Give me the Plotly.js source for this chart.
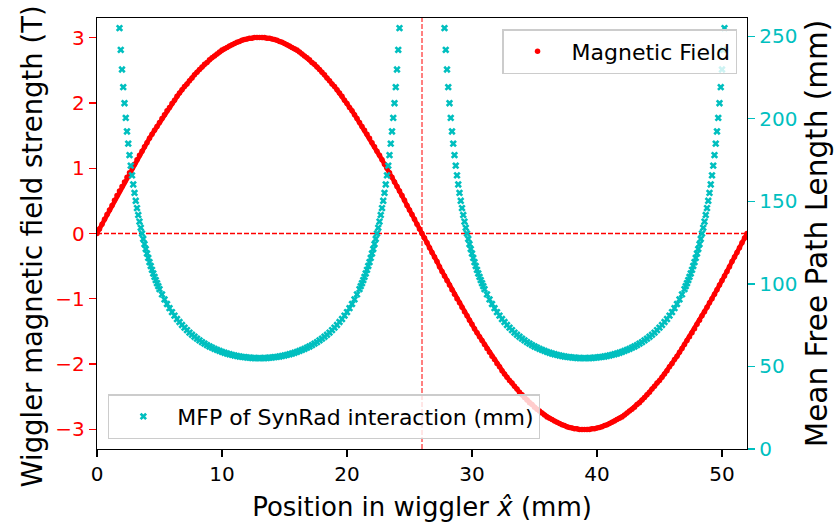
<!DOCTYPE html>
<html>
<head>
<meta charset="utf-8">
<script src="https://cdn.plot.ly/plotly-3.0.1.min.js"></script>
<style>html,body{margin:0;padding:0;background:#fff;}#chart{width:839px;height:526px;}</style>
</head>
<body>
<div id="chart"></div>
<script>
// Position along the wiggler (mm) for the magnetic field samples
const xField = [0,0.2,0.4,0.6,0.8,1,1.2,1.4,1.6,1.8,2,2.2,2.4,2.6,2.8,3,3.2,3.4,3.6,3.8,4,4.2,4.4,4.6,4.8,5,5.2,5.4,5.6,5.8,6,6.2,6.4,6.6,6.8,7,7.2,7.4,7.6,7.8,8,8.2,8.4,8.6,8.8,9,9.2,9.4,9.6,9.8,10,10.2,10.4,10.6,10.8,11,11.2,11.4,11.6,11.8,12,12.2,12.4,12.6,12.8,13,13.2,13.4,13.6,13.8,14,14.2,14.4,14.6,14.8,15,15.2,15.4,15.6,15.8,16,16.2,16.4,16.6,16.8,17,17.2,17.4,17.6,17.8,18,18.2,18.4,18.6,18.8,19,19.2,19.4,19.6,19.8,20,20.2,20.4,20.6,20.8,21,21.2,21.4,21.6,21.8,22,22.2,22.4,22.6,22.8,23,23.2,23.4,23.6,23.8,24,24.2,24.4,24.6,24.8,25,25.2,25.4,25.6,25.8,26,26.2,26.4,26.6,26.8,27,27.2,27.4,27.6,27.8,28,28.2,28.4,28.6,28.8,29,29.2,29.4,29.6,29.8,30,30.2,30.4,30.6,30.8,31,31.2,31.4,31.6,31.8,32,32.2,32.4,32.6,32.8,33,33.2,33.4,33.6,33.8,34,34.2,34.4,34.6,34.8,35,35.2,35.4,35.6,35.8,36,36.2,36.4,36.6,36.8,37,37.2,37.4,37.6,37.8,38,38.2,38.4,38.6,38.8,39,39.2,39.4,39.6,39.8,40,40.2,40.4,40.6,40.8,41,41.2,41.4,41.6,41.8,42,42.2,42.4,42.6,42.8,43,43.2,43.4,43.6,43.8,44,44.2,44.4,44.6,44.8,45,45.2,45.4,45.6,45.8,46,46.2,46.4,46.6,46.8,47,47.2,47.4,47.6,47.8,48,48.2,48.4,48.6,48.8,49,49.2,49.4,49.6,49.8,50,50.2,50.4,50.6,50.8,51,51.2,51.4,51.6,51.8,52];

// Wiggler magnetic field strength (T)
const bField = [0,0.07,0.14,0.22,0.29,0.36,0.43,0.51,0.58,0.65,0.72,0.79,0.86,0.93,1.00,1.06,1.13,1.20,1.26,1.33,1.39,1.46,1.52,1.58,1.64,1.70,1.76,1.82,1.88,1.93,1.99,2.04,2.10,2.15,2.20,2.25,2.29,2.34,2.38,2.43,2.47,2.51,2.55,2.59,2.62,2.66,2.69,2.72,2.75,2.78,2.81,2.83,2.85,2.87,2.89,2.91,2.93,2.94,2.96,2.97,2.98,2.99,2.99,3.00,3.00,3.00,
3.00,3.00,2.99,2.99,2.98,2.97,2.96,2.94,2.93,2.91,2.89,2.87,2.85,2.83,2.81,2.78,2.75,2.72,2.69,2.66,2.62,2.59,2.55,2.51,2.47,2.43,2.38,2.34,2.29,2.25,2.20,2.15,2.10,2.04,1.99,1.93,1.88,1.82,1.76,1.70,1.64,1.58,1.52,1.46,1.39,1.33,1.26,1.20,1.13,1.06,1.00,0.93,0.86,0.79,0.72,0.65,0.58,0.51,0.43,0.36,0.29,0.22,0.14,0.07,0,
-0.07,-0.14,-0.22,-0.29,-0.36,-0.43,-0.51,-0.58,-0.65,-0.72,-0.79,-0.86,-0.93,-1.00,-1.06,-1.13,-1.20,-1.26,-1.33,-1.39,-1.46,-1.52,-1.58,-1.64,-1.70,-1.76,-1.82,-1.88,-1.93,-1.99,-2.04,-2.10,-2.15,-2.20,-2.25,-2.29,-2.34,-2.38,-2.43,-2.47,-2.51,-2.55,-2.59,-2.62,-2.66,-2.69,-2.72,-2.75,-2.78,-2.81,-2.83,-2.85,-2.87,-2.89,-2.91,-2.93,-2.94,-2.96,-2.97,-2.98,-2.99,-2.99,-3.00,-3.00,-3.00,
-3.00,-3.00,-2.99,-2.99,-2.98,-2.97,-2.96,-2.94,-2.93,-2.91,-2.89,-2.87,-2.85,-2.83,-2.81,-2.78,-2.75,-2.72,-2.69,-2.66,-2.62,-2.59,-2.55,-2.51,-2.47,-2.43,-2.38,-2.34,-2.29,-2.25,-2.20,-2.15,-2.10,-2.04,-1.99,-1.93,-1.88,-1.82,-1.76,-1.70,-1.64,-1.58,-1.52,-1.46,-1.39,-1.33,-1.26,-1.20,-1.13,-1.06,-1.00,-0.93,-0.86,-0.79,-0.72,-0.65,-0.58,-0.51,-0.43,-0.36,-0.29,-0.22,-0.14,-0.07,0];

// Positions (mm) of the visible mean-free-path samples
const xMfp = [1.8,1.9,2,2.1,2.2,2.3,2.4,2.5,2.6,2.7,2.8,2.9,3,3.1,3.2,3.3,3.4,3.5,3.6,3.7,3.8,3.9,4,4.1,4.2,4.3,4.4,4.5,4.6,4.7,4.8,4.9,5,
5.2,5.4,5.6,5.8,6,6.2,6.4,6.6,6.8,7,7.2,7.4,7.6,7.8,8,8.2,8.4,8.6,8.8,9,9.2,9.4,9.6,9.8,10,10.2,10.4,10.6,10.8,11,11.2,11.4,11.6,11.8,12,12.2,12.4,12.6,12.8,13,
13.2,13.4,13.6,13.8,14,14.2,14.4,14.6,14.8,15,15.2,15.4,15.6,15.8,16,16.2,16.4,16.6,16.8,17,17.2,17.4,17.6,17.8,18,18.2,18.4,18.6,18.8,19,19.2,19.4,19.6,19.8,20,20.2,20.4,20.6,20.8,
21,21.1,21.2,21.3,21.4,21.5,21.6,21.7,21.8,21.9,22,22.1,22.2,22.3,22.4,22.5,22.6,22.7,22.8,22.9,23,23.1,23.2,23.3,23.4,23.5,23.6,23.7,23.8,23.9,24,24.1,24.2,
27.8,27.9,28,28.1,28.2,28.3,28.4,28.5,28.6,28.7,28.8,28.9,29,29.1,29.2,29.3,29.4,29.5,29.6,29.7,29.8,29.9,30,30.1,30.2,30.3,30.4,30.5,30.6,30.7,30.8,30.9,31,
31.2,31.4,31.6,31.8,32,32.2,32.4,32.6,32.8,33,33.2,33.4,33.6,33.8,34,34.2,34.4,34.6,34.8,35,35.2,35.4,35.6,35.8,36,36.2,36.4,36.6,36.8,37,37.2,37.4,37.6,37.8,38,38.2,38.4,38.6,38.8,39,
39.2,39.4,39.6,39.8,40,40.2,40.4,40.6,40.8,41,41.2,41.4,41.6,41.8,42,42.2,42.4,42.6,42.8,43,43.2,43.4,43.6,43.8,44,44.2,44.4,44.6,44.8,45,45.2,45.4,45.6,45.8,46,46.2,46.4,46.6,46.8,
47,47.1,47.2,47.3,47.4,47.5,47.6,47.7,47.8,47.9,48,48.1,48.2,48.3,48.4,48.5,48.6,48.7,48.8,48.9,49,49.1,49.2,49.3,49.4,49.5,49.6,49.7,49.8,49.9,50,50.1,50.2];

// Mean free path of the SynRad interaction (mm)
const mfp = [254.9,241.7,229.8,219.1,209.4,200.5,192.3,184.9,178.0,171.6,165.7,160.2,155.1,150.3,145.9,141.7,137.7,134.0,130.5,127.2,124.1,121.1,118.4,115.7,113.2,110.8,108.5,106.3,104.2,102.3,100.4,98.6,96.8,
93.6,90.6,87.8,85.3,82.9,80.8,78.7,76.9,75.1,73.5,72.0,70.5,69.2,68.0,66.8,65.8,64.7,63.8,62.9,62.1,61.4,60.6,60.0,59.4,58.8,58.3,57.8,57.4,57.0,56.6,56.3,56.0,55.8,55.6,55.4,55.3,55.1,55.1,55.0,55.0,
55.0,55.1,55.1,55.3,55.4,55.6,55.8,56.0,56.3,56.6,57.0,57.4,57.8,58.3,58.8,59.4,60.0,60.6,61.4,62.1,62.9,63.8,64.7,65.8,66.8,68.0,69.2,70.5,72.0,73.5,75.1,76.9,78.7,80.8,82.9,85.3,87.8,90.6,93.6,
96.8,98.6,100.4,102.3,104.2,106.3,108.5,110.8,113.2,115.7,118.4,121.1,124.1,127.2,130.5,134.0,137.7,141.7,145.9,150.3,155.1,160.2,165.7,171.6,178.0,184.9,192.3,200.5,209.4,219.1,229.8,241.7,254.9,
254.9,241.7,229.8,219.1,209.4,200.5,192.3,184.9,178.0,171.6,165.7,160.2,155.1,150.3,145.9,141.7,137.7,134.0,130.5,127.2,124.1,121.1,118.4,115.7,113.2,110.8,108.5,106.3,104.2,102.3,100.4,98.6,96.8,
93.6,90.6,87.8,85.3,82.9,80.8,78.7,76.9,75.1,73.5,72.0,70.5,69.2,68.0,66.8,65.8,64.7,63.8,62.9,62.1,61.4,60.6,60.0,59.4,58.8,58.3,57.8,57.4,57.0,56.6,56.3,56.0,55.8,55.6,55.4,55.3,55.1,55.1,55.0,55.0,
55.0,55.1,55.1,55.3,55.4,55.6,55.8,56.0,56.3,56.6,57.0,57.4,57.8,58.3,58.8,59.4,60.0,60.6,61.4,62.1,62.9,63.8,64.7,65.8,66.8,68.0,69.2,70.5,72.0,73.5,75.1,76.9,78.7,80.8,82.9,85.3,87.8,90.6,93.6,
96.8,98.6,100.4,102.3,104.2,106.3,108.5,110.8,113.2,115.7,118.4,121.1,124.1,127.2,130.5,134.0,137.7,141.7,145.9,150.3,155.1,160.2,165.7,171.6,178.0,184.9,192.3,200.5,209.4,219.1,229.8,241.7,254.9];

const xTicks = [0, 10, 20, 30, 40, 50];
const bTicks = [-3, -2, -1, 0, 1, 2, 3];
const mfpTicks = [0, 50, 100, 150, 200, 250];
const xRange = [0, 52];
const zeroField = 0;
const centerX = 26;

const RED = '#ff0000';
const CYAN = '#00bfbf';
const FONT = 'DejaVu Sans, Verdana, sans-serif';

const traces = [
  {
    x: xField, y: bField, type: 'scatter', mode: 'lines',
    showlegend: false, yaxis: 'y', hoverinfo: 'skip',
    line: {color: RED, width: 4.5}
  },
  {
    x: xField, y: bField, type: 'scatter', mode: 'markers',
    name: 'Magnetic Field', yaxis: 'y', legend: 'legend',
    marker: {color: RED, size: 5.5, line: {width: 0}}
  },
  {
    x: xMfp, y: mfp, type: 'scatter', mode: 'markers',
    name: 'MFP of SynRad interaction (mm)', yaxis: 'y2', legend: 'legend2',
    marker: {color: CYAN, size: 6.5, symbol: 'x', line: {width: 0}}
  }
];

const legendBase = {
  bgcolor: 'rgba(255,255,255,0.8)', bordercolor: '#cccccc', borderwidth: 1.3,
  font: {family: FONT, size: 22, color: '#000'}, itemwidth: 58
};

const layout = {
  width: 839, height: 526,
  margin: {l: 97, r: 92, t: 18, b: 77, pad: 0},
  paper_bgcolor: '#fff', plot_bgcolor: '#fff',
  font: {family: FONT, size: 20, color: '#000'},
  showlegend: true,
  xaxis: {
    range: xRange, tickvals: xTicks, ticktext: xTicks.map(String),
    ticks: 'outside', ticklen: 7, tickwidth: 1.3, tickcolor: '#000',
    showline: true, linecolor: '#000', linewidth: 1.3, mirror: true,
    showgrid: false, zeroline: false,
    tickfont: {family: FONT, size: 20, color: '#000'},
    title: {text: 'Position in wiggler <i>x\u0302</i> (mm)', font: {family: FONT, size: 26, color: '#000'}, standoff: 12}
  },
  yaxis: {
    range: [-3.3, 3.3], tickvals: bTicks,
    ticks: 'outside', ticklen: 7, tickwidth: 1.3, tickcolor: RED,
    showline: true, linecolor: '#000', linewidth: 1.3,
    showgrid: false, zeroline: false,
    tickfont: {family: FONT, size: 20, color: RED}
  },
  yaxis2: {
    overlaying: 'y', side: 'right', anchor: 'x',
    range: [0, 261], tickvals: mfpTicks,
    ticks: 'outside', ticklen: 7, tickwidth: 1.3, tickcolor: CYAN,
    showline: true, linecolor: '#000', linewidth: 1.3,
    showgrid: false, zeroline: false,
    tickfont: {family: FONT, size: 20, color: CYAN},
    title: {text: 'Mean Free Path Length (mm)', font: {family: FONT, size: 29.5, color: '#000'}, standoff: 10}
  },
  annotations: [
    {text: 'Wiggler magnetic field strength (T)', textangle: -90,
     xref: 'paper', x: -0.1006, xanchor: 'center', yref: 'paper', y: 0.4687, yanchor: 'middle',
     showarrow: false, font: {family: FONT, size: 27.5, color: '#000'}}
  ],
  legend: Object.assign({}, legendBase, {x: 0.985, xanchor: 'right', y: 0.974, yanchor: 'top'}),
  legend2: Object.assign({}, legendBase, {x: 0.017, xanchor: 'left', y: 0.0225, yanchor: 'bottom'}),
  shapes: [
    {type: 'line', xref: 'paper', x0: 0, x1: 1, yref: 'y', y0: zeroField, y1: zeroField,
     line: {color: RED, width: 1.4, dash: '5px,2px'}, layer: 'below'},
    {type: 'line', xref: 'x', x0: centerX, x1: centerX, yref: 'paper', y0: 0, y1: 1,
     line: {color: RED, width: 1, dash: '5px,2px'}, layer: 'below'}
  ]
};

Plotly.newPlot('chart', traces, layout, {displayModeBar: false, staticPlot: true});
</script>
</body>
</html>
